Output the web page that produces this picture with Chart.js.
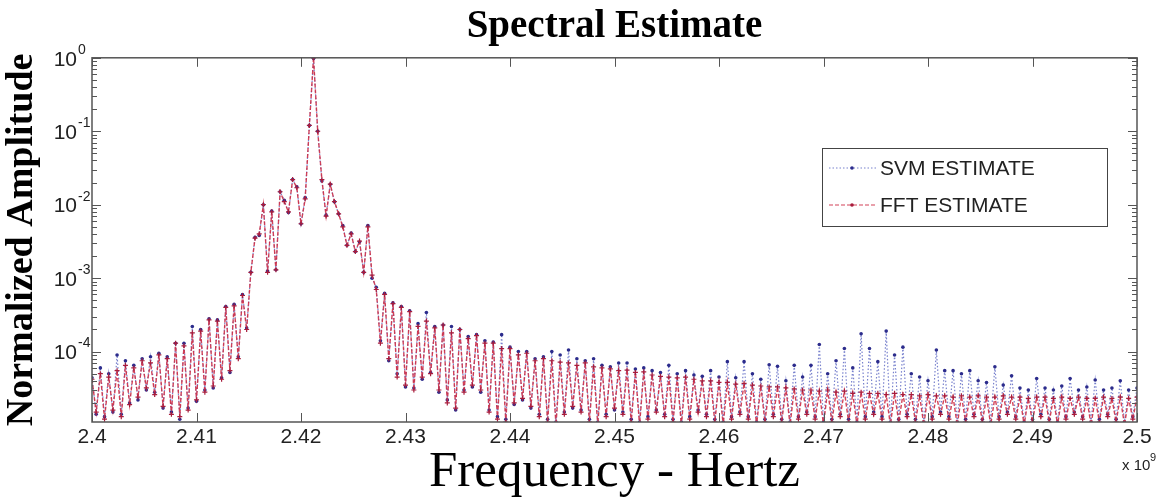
<!DOCTYPE html>
<html>
<head>
<meta charset="utf-8">
<script src="https://cdn.jsdelivr.net/npm/chart.js@4.4.1/dist/chart.umd.min.js"></script>
<style>
  html, body { margin: 0; padding: 0; background: #fff; }
  #wrap { width: 1162px; height: 502px; position: relative; }
</style>
</head>
<body>
<div id="wrap"><canvas id="spectrum"></canvas></div>
<script>
// frequency grid (GHz) - one sample every 0.0004 GHz from 2.4 to 2.5
const freqStartGHz = 2.4;
const freqStepGHz = 0.0004;

// normalized amplitude, 251 samples each
const fftAmp = [
  4.2e-5, 1.5e-5, 5.0e-5, 1.2e-5, 4.5e-5, 1.6e-5, 5.5e-5, 1.3e-5, 6.5e-5, 1.9e-5,
  6.0e-5, 2.4e-5, 7.5e-5, 3.2e-5, 7.0e-5, 2.6e-5, 9.0e-5, 1.8e-5, 8.0e-5, 1.4e-5,
  1.3e-4, 1.3e-5, 1.2e-4, 1.6e-5, 1.8e-4, 2.2e-5, 1.9e-4, 2.8e-5, 2.7e-4, 3.4e-5,
  2.6e-4, 4.2e-5, 4.0e-4, 5.5e-5, 4.2e-4, 8.0e-5, 5.8e-4, 2.0e-4, 1.2e-3, 3.5e-3,
  4.0e-3, 1.0e-2, 1.2e-3, 8.0e-3, 1.3e-3, 1.5e-2, 1.1e-2, 8.0e-3, 2.2e-2, 1.7e-2,
  5.5e-3, 1.2e-2, 0.12, 1.0, 0.10, 2.2e-2, 7.0e-3, 1.9e-2, 1.1e-2, 7.5e-3,
  5.0e-3, 2.8e-3, 4.0e-3, 2.3e-3, 3.2e-3, 1.2e-3, 5.0e-3, 1.1e-3, 7.0e-4, 1.3e-4,
  6.0e-4, 8.0e-5, 4.5e-4, 4.5e-5, 4.0e-4, 3.5e-5, 3.5e-4, 3.0e-5, 2.2e-4, 4.5e-5,
  2.6e-4, 5.0e-5, 2.1e-4, 3.0e-5, 2.3e-4, 2.0e-5, 1.8e-4, 1.7e-5, 2.0e-4, 2.8e-5,
  1.5e-4, 3.5e-5, 1.65e-4, 3.0e-5, 1.3e-4, 1.5e-5, 1.3e-4, 1.2e-5, 1.1e-4, 1.1e-5,
  1.1e-4, 2.0e-5, 9.0e-5, 2.3e-5, 9.5e-5, 1.8e-5, 7.5e-5, 1.3e-5, 8.0e-5, 1.1e-5,
  7.5e-5, 1.0e-5, 7.2e-5, 1.4e-5, 7.0e-5, 1.8e-5, 6.5e-5, 1.5e-5, 7.0e-5, 1.1e-5,
  6.2e-5, 1.0e-5, 6.0e-5, 1.3e-5, 5.8e-5, 1.7e-5, 5.5e-5, 1.4e-5, 5.6e-5, 1.1e-5,
  5.2e-5, 1.0e-5, 5.3e-5, 1.2e-5, 4.8e-5, 1.5e-5, 4.6e-5, 1.3e-5, 4.5e-5, 1.1e-5,
  4.4e-5, 1.0e-5, 4.5e-5, 1.2e-5, 4.2e-5, 1.5e-5, 4.0e-5, 1.3e-5, 4.0e-5, 1.1e-5,
  3.8e-5, 1.0e-5, 3.8e-5, 1.2e-5, 3.6e-5, 1.4e-5, 3.7e-5, 1.2e-5, 3.5e-5, 1.0e-5,
  3.4e-5, 1.1e-5, 3.3e-5, 1.3e-5, 3.3e-5, 1.1e-5, 3.2e-5, 1.0e-5, 3.1e-5, 1.2e-5,
  3.0e-5, 1.4e-5, 3.0e-5, 1.2e-5, 2.9e-5, 1.0e-5, 3.0e-5, 1.1e-5, 2.8e-5, 1.3e-5,
  2.9e-5, 1.1e-5, 2.7e-5, 1.0e-5, 2.8e-5, 1.2e-5, 2.7e-5, 1.4e-5, 2.7e-5, 1.2e-5,
  2.6e-5, 1.0e-5, 2.7e-5, 1.1e-5, 2.6e-5, 1.3e-5, 2.6e-5, 1.1e-5, 2.5e-5, 1.0e-5,
  2.6e-5, 1.2e-5, 2.5e-5, 1.4e-5, 2.5e-5, 1.2e-5, 2.4e-5, 1.0e-5, 2.5e-5, 1.1e-5,
  2.4e-5, 1.3e-5, 2.5e-5, 1.1e-5, 2.4e-5, 1.0e-5, 2.4e-5, 1.2e-5, 2.5e-5, 1.4e-5,
  2.4e-5, 1.2e-5, 2.4e-5, 1.0e-5, 2.3e-5, 1.1e-5, 2.4e-5, 1.3e-5, 2.4e-5, 1.1e-5,
  2.3e-5, 1.0e-5, 2.4e-5, 1.2e-5, 2.3e-5, 1.4e-5, 2.4e-5, 1.2e-5, 2.3e-5, 1.0e-5,
  2.3e-5, 1.1e-5, 2.4e-5, 1.3e-5, 2.3e-5, 1.1e-5, 2.4e-5, 1.0e-5, 2.3e-5, 1.2e-5,
  2.4e-5
];

const svmAmp = [
  4.4e-5, 1.4e-5, 6.0e-5, 1.3e-5, 5.0e-5, 1.5e-5, 9.0e-5, 1.4e-5, 7.5e-5, 2.0e-5,
  6.5e-5, 2.2e-5, 8.0e-5, 3.0e-5, 8.5e-5, 2.8e-5, 9.5e-5, 1.7e-5, 8.5e-5, 1.5e-5,
  1.3e-4, 1.2e-5, 1.3e-4, 1.7e-5, 2.2e-4, 2.1e-5, 2.0e-4, 3.0e-5, 2.8e-4, 3.2e-5,
  2.7e-4, 4.4e-5, 4.1e-4, 5.2e-5, 4.4e-4, 8.5e-5, 6.0e-4, 2.1e-4, 1.2e-3, 3.6e-3,
  3.8e-3, 1.0e-2, 1.25e-3, 8.2e-3, 1.3e-3, 1.5e-2, 1.15e-2, 7.8e-3, 2.2e-2, 1.75e-2,
  5.5e-3, 1.25e-2, 0.12, 0.98, 0.10, 2.1e-2, 7.2e-3, 1.9e-2, 1.1e-2, 7.5e-3,
  5.2e-3, 2.8e-3, 4.1e-3, 2.3e-3, 3.1e-3, 1.2e-3, 5.2e-3, 1.0e-3, 7.5e-4, 1.4e-4,
  6.2e-4, 7.5e-5, 4.6e-4, 5.0e-5, 4.1e-4, 3.3e-5, 3.6e-4, 3.2e-5, 2.4e-4, 4.2e-5,
  3.4e-4, 5.2e-5, 2.2e-4, 2.8e-5, 2.3e-4, 2.2e-5, 2.2e-4, 1.6e-5, 2.0e-4, 3.0e-5,
  1.6e-4, 3.3e-5, 1.7e-4, 2.8e-5, 1.4e-4, 1.6e-5, 1.35e-4, 1.3e-5, 1.7e-4, 1.2e-5,
  1.15e-4, 1.9e-5, 1.0e-4, 2.2e-5, 1.0e-4, 1.7e-5, 8.0e-5, 1.4e-5, 8.5e-5, 1.2e-5,
  1.0e-4, 1.1e-5, 9.0e-5, 1.5e-5, 1.05e-4, 1.7e-5, 8.0e-5, 1.6e-5, 7.5e-5, 1.2e-5,
  8.0e-5, 1.1e-5, 6.5e-5, 1.4e-5, 6.2e-5, 1.6e-5, 7.0e-5, 1.5e-5, 7.0e-5, 1.2e-5,
  5.8e-5, 1.1e-5, 6.0e-5, 1.3e-5, 5.5e-5, 1.6e-5, 5.2e-5, 1.4e-5, 6.5e-5, 1.2e-5,
  5.0e-5, 1.1e-5, 5.5e-5, 1.3e-5, 4.8e-5, 1.6e-5, 4.6e-5, 1.4e-5, 5.5e-5, 1.2e-5,
  4.5e-5, 1.1e-5, 7.3e-5, 1.3e-5, 4.4e-5, 1.5e-5, 7.3e-5, 1.3e-5, 5.0e-5, 1.1e-5,
  4.2e-5, 1.2e-5, 6.6e-5, 1.4e-5, 6.3e-5, 1.2e-5, 4.0e-5, 1.1e-5, 6.5e-5, 1.3e-5,
  4.5e-5, 1.5e-5, 6.5e-5, 1.3e-5, 1.25e-4, 1.1e-5, 5.0e-5, 1.2e-5, 7.5e-5, 1.4e-5,
  1.1e-4, 1.2e-5, 6.0e-5, 1.1e-5, 1.75e-4, 1.3e-5, 1.1e-4, 1.5e-5, 7.3e-5, 1.3e-5,
  1.9e-4, 1.1e-5, 9.0e-5, 1.2e-5, 1.15e-4, 1.4e-5, 5.0e-5, 1.2e-5, 4.5e-5, 1.1e-5,
  4.0e-5, 1.3e-5, 1.05e-4, 1.5e-5, 5.5e-5, 1.3e-5, 5.5e-5, 1.1e-5, 5.0e-5, 1.2e-5,
  5.5e-5, 1.4e-5, 4.0e-5, 1.2e-5, 3.8e-5, 1.1e-5, 6.2e-5, 1.3e-5, 3.5e-5, 1.5e-5,
  4.7e-5, 1.3e-5, 3.2e-5, 1.1e-5, 3.0e-5, 1.2e-5, 4.3e-5, 1.4e-5, 3.2e-5, 1.2e-5,
  3.0e-5, 1.1e-5, 3.4e-5, 1.3e-5, 4.3e-5, 1.5e-5, 3.0e-5, 1.3e-5, 3.3e-5, 1.1e-5,
  4.1e-5, 1.2e-5, 3.0e-5, 1.4e-5, 3.2e-5, 1.2e-5, 4.0e-5, 1.1e-5, 3.0e-5, 1.3e-5,
  3.2e-5
];

const seriesNames = ['SVM ESTIMATE', 'FFT ESTIMATE'];
const xTickValues = [2.4, 2.41, 2.42, 2.43, 2.44, 2.45, 2.46, 2.47, 2.48, 2.49, 2.5];
const yTickExponents = [0, -1, -2, -3, -4];

const serif = "'Liberation Serif', 'Times New Roman', serif";
const sans = "'Liberation Sans', Arial, sans-serif";

const toPoints = amps => amps.map((a, i) => ({ x: +(freqStartGHz + i * freqStepGHz).toFixed(4), y: a }));

// frame, inward ticks, 10^n labels and the boxed legend (matlab look)
const matlabFrame = {
  id: 'matlabFrame',
  afterDatasetsDraw(chart) {
    const { ctx, chartArea: a, scales: { x, y } } = chart;
    ctx.save();
    ctx.strokeStyle = '#555';
    ctx.lineWidth = 1;
    ctx.setLineDash([]);

    xTickValues.forEach(v => {
      const px = Math.round(x.getPixelForValue(v)) + 0.5;
      ctx.beginPath();
      ctx.moveTo(px, a.bottom); ctx.lineTo(px, a.bottom - 9);
      ctx.moveTo(px, a.top); ctx.lineTo(px, a.top + 9);
      ctx.stroke();
    });

    for (let k = 0; k >= -5; k--) {
      for (let m = 1; m <= 9; m++) {
        const v = m * Math.pow(10, k);
        if (v < y.min || v > y.max) continue;
        const py = Math.round(y.getPixelForValue(v)) + 0.5;
        const len = m === 1 ? 9 : 5;
        ctx.beginPath();
        ctx.moveTo(a.left, py); ctx.lineTo(a.left + len, py);
        ctx.moveTo(a.right, py); ctx.lineTo(a.right - len, py);
        ctx.stroke();
      }
    }

    ctx.lineWidth = 1.5;
    ctx.strokeRect(a.left, a.top, a.width, a.height);

    // y labels as 10 with a raised exponent
    ctx.fillStyle = '#222';
    ctx.textBaseline = 'middle';
    yTickExponents.forEach(k => {
      const py = y.getPixelForValue(Math.pow(10, k));
      ctx.font = '21px ' + sans;
      ctx.textAlign = 'right';
      ctx.fillText('10', 77, py + 2);
      ctx.font = '14px ' + sans;
      ctx.textAlign = 'left';
      ctx.fillText(String(k), 78, py - 8);
    });

    // x 10^9 multiplier
    ctx.font = '15px ' + sans;
    ctx.textAlign = 'left';
    ctx.fillText('x 10', 1122, 466);
    ctx.font = '11px ' + sans;
    ctx.fillText('9', 1150, 458);

    // legend box
    const lx = 822, ly = 148, lw = 285, lh = 78;
    ctx.fillStyle = '#fff';
    ctx.fillRect(lx, ly, lw, lh);
    ctx.strokeStyle = '#444';
    ctx.lineWidth = 1;
    ctx.strokeRect(lx + 0.5, ly + 0.5, lw, lh);
    const rows = [168, 205];
    const order = [1, 0];
    rows.forEach((ry, r) => {
      const ds = chart.data.datasets[order[r]];
      ctx.strokeStyle = ds.borderColor;
      ctx.lineWidth = 1;
      ctx.setLineDash(ds.borderDash);
      ctx.beginPath();
      ctx.moveTo(829, ry); ctx.lineTo(876, ry);
      ctx.stroke();
      ctx.setLineDash([]);
      ctx.fillStyle = ds.pointBackgroundColor;
      ctx.beginPath();
      ctx.arc(852, ry, 1.8, 0, Math.PI * 2);
      ctx.fill();
      ctx.fillStyle = '#222';
      ctx.font = '21px ' + sans;
      ctx.textAlign = 'left';
      ctx.textBaseline = 'middle';
      ctx.fillText(ds.label, 880, ry + 1);
    });
    ctx.restore();
  }
};

new Chart(document.getElementById('spectrum'), {
  type: 'line',
  data: {
    datasets: [
      {
        label: seriesNames[1],
        data: toPoints(fftAmp),
        order: 0,
        borderColor: 'rgba(205,45,70,0.9)',
        borderWidth: 1.4,
        borderDash: [4, 2],
        pointStyle: 'cross',
        pointRadius: 2.5,
        pointBorderWidth: 1.2,
        pointBorderColor: '#a81c3c',
        pointBackgroundColor: '#a81c3c',
        tension: 0
      },
      {
        label: seriesNames[0],
        data: toPoints(svmAmp),
        order: 1,
        borderColor: 'rgba(105,115,200,0.9)',
        borderWidth: 1.2,
        borderDash: [1.5, 2],
        pointStyle: 'circle',
        pointRadius: 1.8,
        pointBorderWidth: 0,
        pointBackgroundColor: '#2c2c8c',
        tension: 0
      }
    ]
  },
  options: {
    responsive: true,
    maintainAspectRatio: false,
    animation: false,
    devicePixelRatio: 1,
    layout: { padding: { left: 0, right: 25, top: 0, bottom: 0 } },
    plugins: {
      legend: { display: false },
      tooltip: { enabled: false },
      title: {
        display: true,
        text: 'Spectral Estimate',
        fullSize: false,
        color: '#000',
        font: { family: serif, size: 39, weight: 'bold', lineHeight: 1.2 },
        padding: { top: 4, bottom: 7 }
      }
    },
    scales: {
      x: {
        type: 'linear',
        min: 2.4,
        max: 2.5,
        grid: { display: false, drawTicks: false },
        border: { display: false },
        afterBuildTicks: s => { s.ticks = xTickValues.map(v => ({ value: v })); },
        ticks: {
          autoSkip: false,
          maxRotation: 0,
          padding: 3,
          color: '#222',
          font: { family: sans, size: 21 },
          callback: v => String(+Number(v).toFixed(2))
        },
        title: {
          display: true,
          text: 'Frequency - Hertz',
          color: '#000',
          font: { family: serif, size: 51, lineHeight: 1 },
          padding: { top: 0, bottom: 3.5 }
        },
        afterFit: s => { s.height = 80; }
      },
      y: {
        type: 'logarithmic',
        min: 1.1e-5,
        max: 1,
        grid: { display: false, drawTicks: false },
        border: { display: false },
        ticks: { display: false },
        title: {
          display: true,
          text: 'Normalized Amplitude',
          color: '#000',
          font: { family: serif, size: 38, weight: 'bold', lineHeight: 1 },
          padding: { top: 3, bottom: 0 }
        },
        afterFit: s => { s.width = 92; }
      }
    }
  },
  plugins: [matlabFrame]
});
</script>
</body>
</html>
